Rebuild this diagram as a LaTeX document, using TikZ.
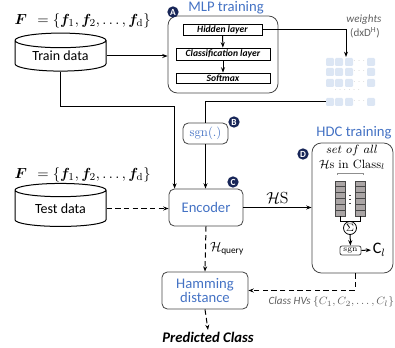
\documentclass[tikz,border=0pt]{standalone}
\usepackage{amsmath,amssymb,bm}
\usepackage{fontspec}
\setsansfont{Carlito}
\usetikzlibrary{shapes.geometric,arrows.meta,calc}

\definecolor{tblue}{RGB}{68,114,196}
\definecolor{navy}{RGB}{24,38,88}
\definecolor{cellblue}{RGB}{220,230,244}
\definecolor{cellgray}{RGB}{170,165,165}
\definecolor{txtgray}{RGB}{95,95,95}
\definecolor{boxgray}{RGB}{70,70,70}

\tikzset{every picture/.style={line width=0.75pt},
  arr/.style={-{Stealth[length=4pt,width=3pt]}},
  dashln/.style={dash pattern=on 4pt off 2.5pt},
  db/.style={cylinder,shape border rotate=90,aspect=0.26,draw,minimum width=68.25pt,
    inner sep=0pt,font=\sffamily\fontsize{10.5}{12}\selectfont},
  bigbox/.style={draw=boxgray,rounded corners=7pt,line width=0.6pt},
  layer/.style={draw,line width=0.6pt,inner sep=0pt,minimum width=70.5pt,
    font=\sffamily\bfseries\itshape\fontsize{7.2}{8}\selectfont},
  procbox/.style={draw=boxgray,rounded corners=4pt,line width=0.6pt,inner sep=0pt,
    text=tblue,align=center},
  badge/.style={circle,fill=navy,inner sep=0pt,minimum size=8.5pt,text=white,
    font=\sffamily\bfseries\fontsize{7}{7}\selectfont},
  wcell/.style={fill=cellblue,rounded corners=0.8pt,inner sep=0pt,minimum size=6pt},
  hcell/.style={draw=boxgray,fill=cellgray,line width=0.5pt,inner sep=0pt,
    minimum width=7.5pt,minimum height=4.375pt},
  title/.style={text=tblue,font=\sffamily\fontsize{11}{12}\selectfont},
  gtext/.style={text=txtgray,font=\sffamily\itshape\fontsize{8.3}{9}\selectfont}
}

\begin{document}
\begin{tikzpicture}[x=0.75pt,y=0.75pt,yscale=-1,xscale=1]
\useasboundingbox (0,0) rectangle (395,348);

% feature sets and data
\node[anchor=west,inner sep=0pt,font=\fontsize{11}{12}\selectfont] (ftrain) at (14,21)
  {$\bm{F}\;\,=\{\bm{f}_1,\bm{f}_2,\ldots,\bm{f}_{\mathrm{d}}\}$};
\node[db,minimum height=28.5pt] (train) at (60.5,56) {Train data};
\node[anchor=west,inner sep=0pt,font=\fontsize{11}{12}\selectfont] (ftest) at (14,175)
  {$\bm{F}\;\,=\{\bm{f}_1,\bm{f}_2,\ldots,\bm{f}_{\mathrm{d}}\}$};
\node[db,minimum height=32.25pt] (test) at (60.5,208.5) {Test data};

% MLP training
\node[bigbox,minimum width=82.5pt,minimum height=57.75pt] (mlp) at (223,54.5) {};
\node[title] (mlptitle) at (226,8) {MLP training};
\node[badge] (bA) at (173,12) {A};
\node[layer,minimum width=59.25pt,minimum height=8.25pt] (hidden) at (222.5,29.5) {Hidden layer};
\node[layer,minimum height=9pt] (class) at (223,54) {Classification layer};
\node[layer,minimum height=7.5pt] (softmax) at (223,78) {Softmax};

% weights
\node[gtext] (wlab) at (364,20) {weights};
\node[text=txtgray,font=\sffamily\fontsize{8.3}{9}\selectfont] (wdim) at (365,33) {(dxD\textsuperscript{H})};
\foreach \c/\x in {1/330,2/339,3/349,4/371}
  \foreach \r/\y in {1/62,2/72,3/83,4/102}
    \node[wcell] (w\r\c) at (\x,\y) {};
\foreach \r/\y in {1/62,2/72,3/83,4/102}
  \node[text=txtgray!60,font=\fontsize{5}{5}\selectfont] (wd\r) at (360,\y-1) {$\cdots$};
\node[text=txtgray!60,font=\fontsize{5}{5}\selectfont] (wrow) at (348,90) {$\cdots\cdots$};
\coordinate (wtop) at (346,57);

% sgn, encoder
\node[procbox,minimum width=33.75pt,minimum height=15.75pt,font=\fontsize{9.5}{10}\selectfont] (sgn) at (205.5,133.5) {sgn(.)};
\node[badge] (bB) at (234,122) {B};
\node[procbox,minimum width=55.5pt,minimum height=27.75pt,font=\sffamily\fontsize{11}{12}\selectfont] (enc) at (206,207.5) {Encoder};
\node[badge] (bC) at (233,182) {C};

% HDC training
\node[bigbox,minimum width=60.75pt,minimum height=97.5pt] (hdc) at (352.5,208) {};
\node[title] (hdctitle) at (354,133) {HDC training};
\node[badge] (bD) at (303,154) {D};
\node[font=\fontsize{9}{10}\selectfont] (setall) at (352,151) {$set\ of\ all$};
\node[font=\fontsize{9}{10}\selectfont] (hsin) at (352,165) {$\mathcal{H}$s in Class$_l$};
\draw[txtgray!70,line width=0.4pt] (337,175) -- (337,173) -- (363,173) -- (363,175);
\foreach \i in {0,...,5} {
  \node[hcell] (sl\i) at (340,183.9+5.83*\i) {};
  \node[hcell] (sr\i) at (360,183.9+5.83*\i) {};
}
\draw[line width=1pt,dotted,boxgray] (350,195) -- (350,206);
\node[circle,draw,line width=0.6pt,inner sep=0pt,minimum size=9.75pt,font=\fontsize{8}{8}\selectfont] (sum) at (350,228) {$\Sigma$};
\node[procbox,text=black,rounded corners=1.5pt,minimum width=15.75pt,minimum height=6.75pt,font=\fontsize{6}{6}\selectfont] (sgnb) at (350.5,250.5) {sgn};
\node[anchor=west,inner sep=1pt,font=\sffamily\fontsize{12}{12}\selectfont] (cl) at (371,250) {C$_{l}$};

% Hamming
\node[procbox,minimum width=64.5pt,minimum height=27.75pt,font=\sffamily\fontsize{11}{12}\selectfont] (ham) at (205,290.5) {Hamming\\[-2pt]distance};
\node[inner sep=1pt,font=\sffamily\bfseries\itshape\fontsize{11}{12}\selectfont] (pred) at (208,337) {Predicted Class};
\node[gtext,anchor=west,inner sep=0pt] (hvs) at (268,302) {Class HVs $\{C_1,C_2,\ldots,C_l\}$};

% connectors
\draw[arr] (train.east) -- (train.east -| mlp.west);
\draw[arr] (hidden) -- (class);
\draw[arr] (class) -- (softmax);
\draw[arr] (hidden.east) -| (wtop);
\draw (w41.west) -| (sgn.north);
\draw[arr] (sgn.south) -- (sgn.south |- enc.north);
\draw[arr] (train.south) -- ++(0,35) -| ($(enc.north west)+(6,0)$);
\draw[arr,dashln] (test.east) -- (test.east -| enc.west);
\draw[arr] (enc.east) -- node[above,inner sep=2pt,font=\fontsize{12}{12}\selectfont] {$\mathcal{H}\mathrm{S}$} (enc.east -| hdc.west);
\draw (sl5.south) |- (sum.north);
\draw (sr5.south) |- (sum.north);
\draw[arr] (sum) -- (sgnb);
\draw[arr] (sgnb) -- (cl);
\draw[arr,dashln] (enc.south) -- node[right,inner sep=3pt] {$\mathcal{H}_{\text{\sffamily\fontsize{7}{7}\selectfont query}}$} (ham.north);
\draw[arr,dashln] ($(hdc.south)+(2.5,0)$) |- (ham.east);
\draw[arr,dashln] (ham.south) -- (pred.north);
\end{tikzpicture}
\end{document}
